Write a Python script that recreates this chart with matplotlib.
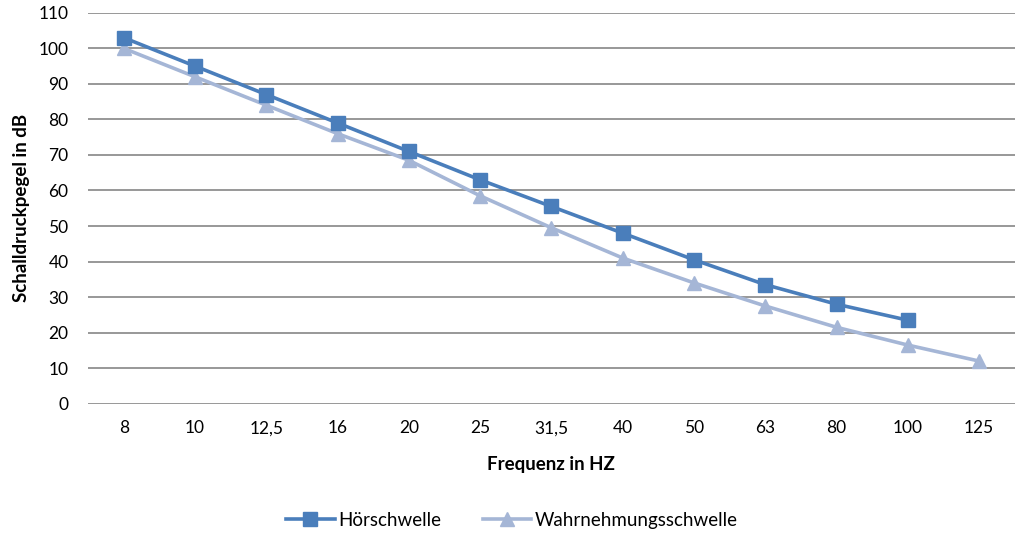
import matplotlib
matplotlib.use("Agg")
import matplotlib.pyplot as plt

# Daten aus dem Diagramm
frequenzen = ['8', '10', '12,5', '16', '20', '25', '31,5', '40', '50', '63', '80', '100', '125']
hoerschwelle = [103, 95, 87, 79, 71, 63, 55.5, 48, 40.5, 33.5, 28, 23.5]
wahrnehmung = [100, 92, 84, 76, 68.5, 58.5, 49.5, 41, 34, 27.5, 21.5, 16.5, 12]

plt.rcParams['font.family'] = ['Lato', 'DejaVu Sans']

fig = plt.figure(figsize=(10.24, 5.38), dpi=100)
ax = fig.add_axes([0.086, 0.2496, 0.905, 0.7266])

x1 = list(range(len(hoerschwelle)))
x2 = list(range(len(wahrnehmung)))
ax.plot(x1, hoerschwelle, color='#4A7EBB', lw=2.6, marker='s', ms=10.5,
        markeredgecolor='#4A7EBB', label='Hörschwelle', zorder=4)
ax.plot(x2, wahrnehmung, color='#A5B6D6', lw=2.6, marker='^', ms=10.5,
        markeredgecolor='#A5B6D6', label='Wahrnehmungsschwelle', zorder=3)

ax.set_xlim(-0.5, len(frequenzen) - 0.5)
ax.set_ylim(0, 110)
ax.set_yticks(range(0, 111, 10))
ax.set_xticks(x2)
ax.set_xticklabels(frequenzen)
ax.yaxis.grid(True, color='#868686', lw=1.2)
ax.set_axisbelow(True)
for s in ax.spines.values():
    s.set_visible(False)
ax.tick_params(axis='both', length=0, labelsize=12.5, colors='#000000')
ax.tick_params(axis='x', pad=12)
ax.tick_params(axis='y', pad=14)

ax.set_xlabel('Frequenz in HZ', fontsize=13.5, fontweight='bold', labelpad=14)
ax.set_ylabel('Schalldruckpegel in dB', fontsize=13.5, fontweight='bold', labelpad=6)

leg = fig.legend(loc='center', bbox_to_anchor=(0.5, 0.033), ncol=2, frameon=False,
                 fontsize=13.5, handlelength=2.6, columnspacing=2.2, handletextpad=0.2)

fig.savefig('out.png', dpi=100)
